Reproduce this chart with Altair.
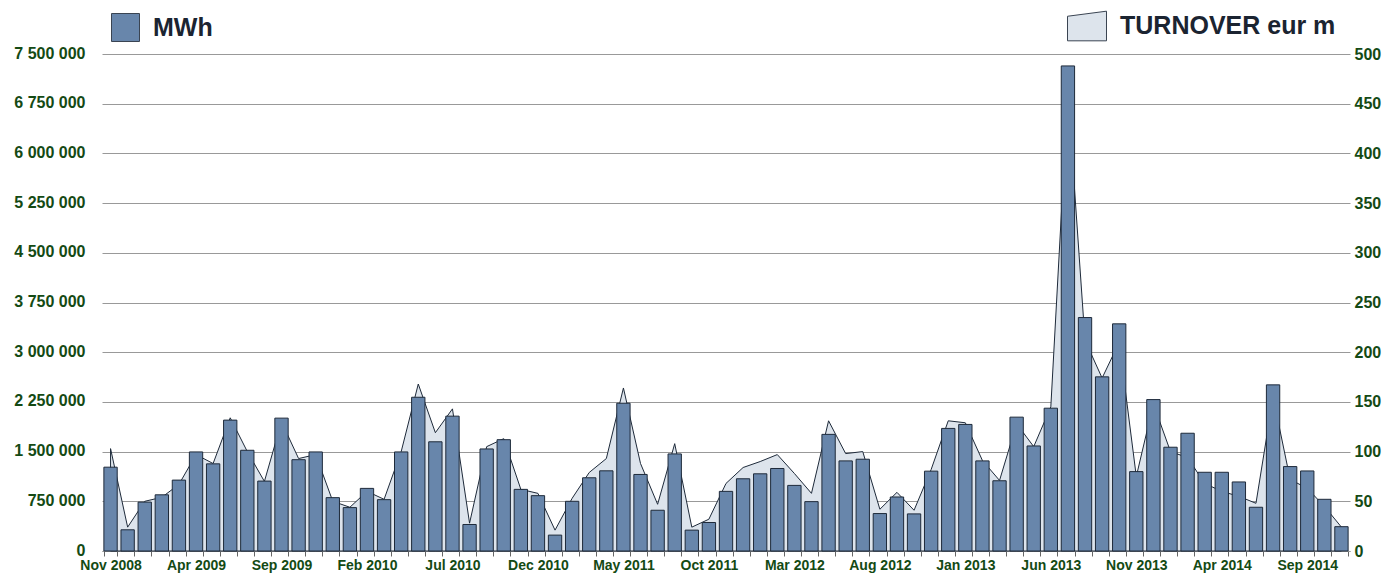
import altair as alt
import pandas as pd

months = [d.strftime("%b %Y") for d in pd.date_range("2008-11-01", "2014-11-01", freq="MS")]

mwh = [1265000, 320000, 738000, 848000, 1070000, 1495000, 1315000, 1975000, 1520000, 1055000,
       2005000, 1378000, 1495000, 805000, 655000, 945000, 775000, 1495000, 2320000, 1648000,
       2035000, 400000, 1540000, 1680000, 930000, 835000, 240000, 750000, 1105000, 1210000,
       2230000, 1155000, 615000, 1465000, 315000, 430000, 900000, 1090000, 1165000, 1245000,
       990000, 745000, 1760000, 1360000, 1385000, 565000, 815000, 560000, 1205000, 1850000,
       1910000, 1360000, 1060000, 2020000, 1585000, 2155000, 7320000, 3523000, 2628000, 3428000,
       1198000, 2285000, 1566000, 1777000, 1188000, 1188000, 1042000, 660000, 2507000, 1274000,
       1208000, 780000, 367000]

turnover = [103, 24, 50, 54, 67, 97, 88, 134, 100, 70,
            130, 93, 97, 50, 44, 60, 52, 100, 168, 119,
            143, 28, 105, 113, 62, 58, 21, 53, 79, 93,
            164, 88, 47, 108, 24, 32, 68, 84, 90, 97,
            78, 58, 131, 98, 100, 42, 59, 41, 82, 131,
            129, 91, 71, 128, 105, 145, 460, 212, 174, 210,
            75, 148, 100, 94, 68, 60, 55, 48, 155, 72,
            63, 45, 24]

left_ticks = [0, 750000, 1500000, 2250000, 3000000, 3750000, 4500000, 5250000, 6000000, 6750000, 7500000]
right_ticks = [0, 50, 100, 150, 200, 250, 300, 350, 400, 450, 500]
shown_labels = months[::5]

df = pd.DataFrame({"month": months, "mwh": mwh, "turnover": turnover,
                   "s_bar": "MWh", "s_area": "TURNOVER eur m"})

FONT = "Liberation Sans"
GREEN = "#144a14"
NAVY = "#1b2431"
EDGE = "#1e2a3a"

label_expr = ("indexof([" + ",".join("'" + m + "'" for m in shown_labels) +
              "], datum.value) >= 0 ? datum.value : ''")

x_enc = alt.X("month:N", sort=months,
              scale=alt.Scale(paddingInner=0.22, paddingOuter=0.11),
              axis=alt.Axis(title=None, labelAngle=0, labelExpr=label_expr, tickBand="extent",
                            ticks=True, tickSize=5, tickColor="#666666", domainColor="#999999",
                            labelFont=FONT, labelFontSize=14, labelFontWeight="bold",
                            labelColor=GREEN, labelPadding=2.5, labelBaseline="top",
                            grid=False, labelOverlap=False, labelLimit=0))

area = alt.Chart(df).mark_area(stroke=EDGE, strokeWidth=1, fillOpacity=1).encode(
    x=x_enc,
    y=alt.Y("turnover:Q", scale=alt.Scale(domain=[0, 500], nice=False),
            axis=alt.Axis(orient="right", title=None, values=right_ticks, grid=False,
                          domain=False, ticks=False, tickSize=0, labelPadding=4,
                          labelFont=FONT, labelFontSize=16, labelFontWeight="bold",
                          labelColor=GREEN)),
    fill=alt.Fill("s_area:N", scale=alt.Scale(range=["#dde4ec"]),
                  legend=alt.Legend(title=None, orient="none", legendX=965, legendY=-48,
                                    symbolType="M-1,-0.5L1,-0.76L1,0.76L-1,0.76Z",
                                    symbolSize=1521, symbolStrokeColor="#3a4452",
                                    symbolStrokeWidth=1, symbolOpacity=1, labelLimit=0,
                                    labelFont=FONT, labelFontSize=25, labelFontWeight="bold",
                                    labelColor=NAVY, labelOffset=13, padding=0)),
)

bars = alt.Chart(df).mark_bar(stroke=EDGE, strokeWidth=1).encode(
    x=x_enc,
    y=alt.Y("mwh:Q", scale=alt.Scale(domain=[0, 7500000], nice=False),
            axis=alt.Axis(orient="left", title=None, values=left_ticks, grid=True,
                          gridColor="#999999", gridWidth=1, domain=False, ticks=False,
                          tickSize=0, labelPadding=17, labelOffset=-1,
                          labelExpr="replace(replace(format(datum.value, ','), ',', ' '), ',', ' ')",
                          labelFont=FONT, labelFontSize=16, labelFontWeight="bold",
                          labelColor=GREEN)),
    fill=alt.Fill("s_bar:N", scale=alt.Scale(range=["#6886ab"]),
                  legend=alt.Legend(title=None, orient="none", legendX=9, legendY=-41,
                                    symbolType="square", symbolSize=784,
                                    symbolStrokeColor="#3a4452", symbolStrokeWidth=1,
                                    symbolOpacity=1, labelLimit=0,
                                    labelFont=FONT, labelFontSize=25, labelFontWeight="bold",
                                    labelColor=NAVY, labelOffset=13, padding=0)),
)

chart = alt.layer(area, bars).resolve_scale(y="independent", fill="independent").properties(
    width=1248, height=497, autosize="none",
    padding={"left": 94, "top": 46, "right": 37, "bottom": 22},
).configure_view(stroke=None)

chart.save("out.html", embed_options={"renderer": "svg", "actions": False})
